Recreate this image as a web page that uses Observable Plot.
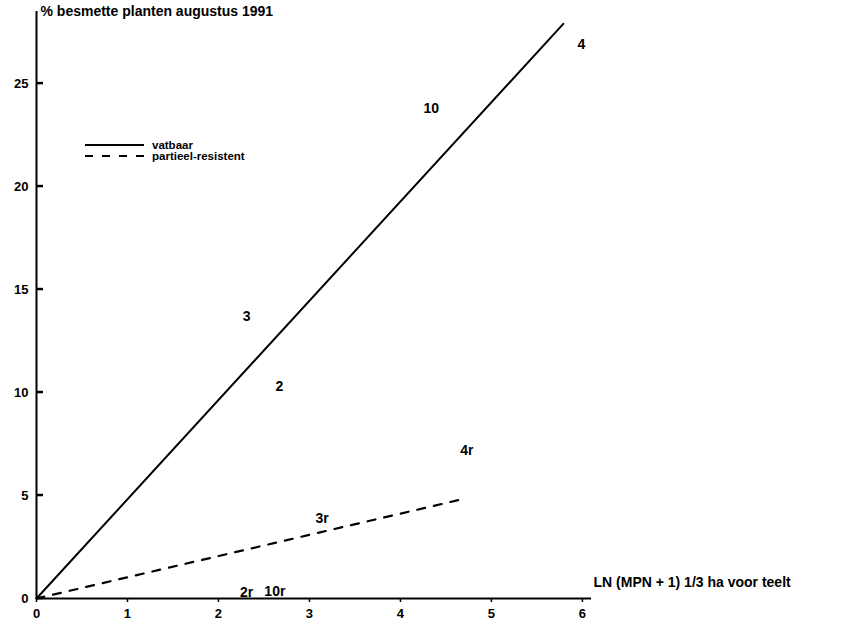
<!DOCTYPE html>
<html>
<head>
<meta charset="utf-8">
<script src="https://cdn.jsdelivr.net/npm/d3@7"></script>
<script src="https://cdn.jsdelivr.net/npm/@observablehq/plot@0.6"></script>
<style>
  body { margin: 0; background: #fff; }
  #chart svg { font-family: "Liberation Sans", Arial, sans-serif; font-weight: bold; }
</style>
</head>
<body>
<div id="chart"></div>
<script>
// Data
const labelText = ["4", "10", "3", "2", "4r", "3r", "2r", "10r"];
const labelX    = [5.99, 4.34, 2.31, 2.67, 4.73, 3.14, 2.31, 2.62];
const labelY    = [26.9, 23.8, 13.7, 10.3, 7.2, 3.9, 0.3, 0.35];

const vatbaarX = [0, 5.79];
const vatbaarY = [0, 27.9];
const resistX  = [0, 4.64];
const resistY  = [0, 4.78];

const xTicks = [0, 1, 2, 3, 4, 5, 6];
const yTicks = [0, 5, 10, 15, 20, 25];

const title = "% besmette planten augustus 1991";
const xTitle = "LN (MPN + 1) 1/3 ha voor teelt";
const legendNames = ["vatbaar", "partieel-resistent"];

const labels = labelText.map((t, i) => ({t, x: labelX[i], y: labelY[i]}));
const solid = vatbaarX.map((x, i) => ({x, y: vatbaarY[i]}));
const dashed = resistX.map((x, i) => ({x, y: resistY[i]}));

const plot = Plot.plot({
  width: 842,
  height: 629,
  marginLeft: 36,
  marginRight: 251,
  marginTop: 11,
  marginBottom: 31,
  x: {domain: [0, 6.1]},
  y: {domain: [0, 28.5]},
  style: {fontFamily: "Liberation Sans, Arial, sans-serif", fontWeight: "bold", color: "#000"},
  marks: [
    Plot.axisX({ticks: xTicks, tickFormat: d3.format("d"), tickSize: 4, tickPadding: 6, fontSize: 13, label: null, strokeWidth: 1.5}),
    Plot.axisY({ticks: yTicks, tickFormat: d3.format("d"), tickSize: 0, tickPadding: 8, fontSize: 13, label: null}),
    Plot.ruleX([0], {strokeWidth: 2}),
    Plot.ruleY([0], {strokeWidth: 2}),
    Plot.line(solid, {x: "x", y: "y", stroke: "#000", strokeWidth: 2}),
    Plot.line(dashed, {x: "x", y: "y", stroke: "#000", strokeWidth: 2.2, strokeDasharray: "8,9"}),
    Plot.text(labels, {x: "x", y: "y", text: "t", fontSize: 14, fontWeight: "bold", fill: "#000"}),
    Plot.text([title], {frameAnchor: "top-left", dx: 4, dy: -5, fontSize: 14, fontWeight: "bold", textAnchor: "start", fill: "#000"}),
    Plot.text([xTitle], {frameAnchor: "bottom-right", dx: 2, dy: -12, fontSize: 14, fontWeight: "bold", textAnchor: "start", fill: "#000", style: {letterSpacing: "1px"}})
  ]
});

document.getElementById("chart").appendChild(plot);

const svg = d3.select(plot);
const xs = plot.scale("x");
const ys = plot.scale("y");
const x0 = xs.apply(0);

// inward-pointing y ticks placed with the plot's own y scale
const tg = svg.append("g");
yTicks.forEach(v => {
  const yy = ys.apply(v);
  tg.append("line")
    .attr("x1", x0).attr("x2", x0 + 7)
    .attr("y1", yy).attr("y2", yy)
    .attr("stroke", "#000").attr("stroke-width", 2.5);
});

// Legend (inside plot area, upper-left)
const lg = svg.append("g")
  .attr("font-family", "Liberation Sans, Arial, sans-serif")
  .attr("font-weight", "bold")
  .attr("font-size", 11.5)
  .attr("text-anchor", "start");
lg.append("line").attr("x1", 85).attr("x2", 144).attr("y1", 145).attr("y2", 145).attr("stroke", "#000").attr("stroke-width", 2);
lg.append("line").attr("x1", 85).attr("x2", 146).attr("y1", 156).attr("y2", 156).attr("stroke", "#000").attr("stroke-width", 2).attr("stroke-dasharray", "8,9");
lg.append("text").attr("x", 152).attr("y", 149).text(legendNames[0]);
lg.append("text").attr("x", 152).attr("y", 160).text(legendNames[1]);
</script>
</body>
</html>
